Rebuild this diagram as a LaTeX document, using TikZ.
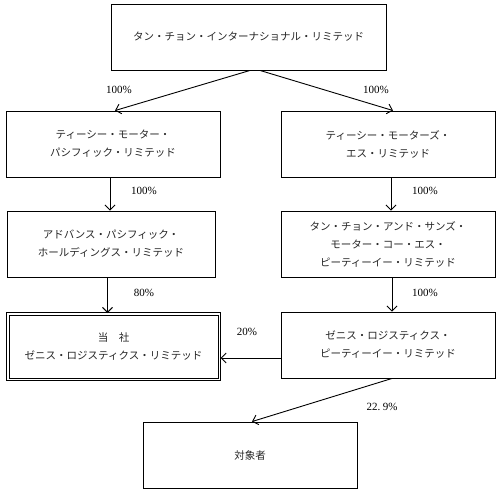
\documentclass[tikz,border=0pt]{standalone}
\usepackage{fontspec}
\setmainfont{Liberation Serif}
\newfontfamily\jp{Noto Sans CJK JP}
\usetikzlibrary{arrows.meta}
\begin{document}
\begin{tikzpicture}[x=1bp,y=-1bp,
  box/.style={draw,line width=0.9bp,minimum width=214bp,minimum height=66bp,inner sep=0pt,
    align=center,font=\jp\fontsize{10.5bp}{18bp}\selectfont,text=black!85},
  arr/.style={line width=0.9bp,-{Straight Barb[length=5bp,width=10bp,line width=0.9bp]}},
  pct/.style={font=\fontsize{11bp}{13bp}\selectfont,inner sep=0pt}]
\useasboundingbox (0,0) rectangle (500,495);
\node[box,minimum width=275bp] (top) at (248.5,37) {タン・チョン・インターナショナル・リミテッド};
\node[box] (L2) at (113,144) {ティーシー・モーター・\\パシフィック・リミテッド};
\node[box] (R2) at (388,144) {ティーシー・モーターズ・\\エス・リミテッド};
\node[box,minimum width=208bp] (L3) at (111,244) {アドバンス・パシフィック・\\ホールディングス・リミテッド};
\node[box] (R3) at (388,244) {タン・チョン・アンド・サンズ・\\モーター・コー・エス・\\ピーティーイー・リミテッド};
\node[box,minimum width=209bp,minimum height=63bp] (L4) at (113.5,346.5) {当　社\\ゼニス・ロジスティクス・リミテッド};
\draw[line width=1.2bp] ([shift={(-2bp,2bp)}]L4.north west) rectangle ([shift={(2bp,-2bp)}]L4.south east);
\node[box] (R4) at (388,345) {ゼニス・ロジスティクス・\\ピーティーイー・リミテッド};
\node[box] (B) at (250,455) {対象者};

\draw[arr] ([xshift=1.5bp]top.south) -- ([xshift=2bp]L2.north);
\draw[arr] ([xshift=11.5bp]top.south) -- ([xshift=5bp]R2.north);
\draw[arr] ([xshift=-3bp]L2.south) -- ([xshift=-3bp]L2.south |- L3.north);
\draw[arr] ([xshift=3bp]R2.south) -- ([xshift=3bp]R2.south |- R3.north);
\draw[arr] ([xshift=-3.5bp]L3.south) -- ([xshift=-3.5bp]L3.south |- 0,313);
\draw[arr] ([xshift=4bp]R3.south) -- ([xshift=4bp]R3.south |- R4.north);
\draw[arr] ([yshift=-13bp]R4.west) coordinate (h) -- (h -| 220.5,0);
\draw[arr] ([xshift=4bp]R4.south) -- ([xshift=2bp]B.north);

\node[pct] (p1) at (119,90) {100\%};
\node[pct] (p2) at (376,90) {100\%};
\node[pct] (p3) at (144,191) {100\%};
\node[pct] (p4) at (425,191) {100\%};
\node[pct] (p5) at (144,293) {80\%};
\node[pct] (p6) at (425,293) {100\%};
\node[pct] (p7) at (247,332) {20\%};
\node[pct] (p8) at (382,407) {22.\hspace{2.5bp}9\%};
\end{tikzpicture}
\end{document}
